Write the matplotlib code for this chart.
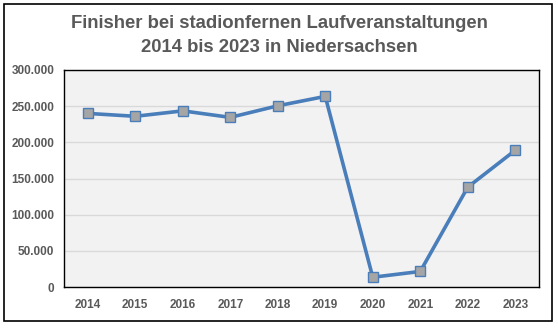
import matplotlib
matplotlib.use("Agg")
import matplotlib.pyplot as plt
from matplotlib.patches import Rectangle
from matplotlib.ticker import FuncFormatter

years = ["2014", "2015", "2016", "2017", "2018", "2019", "2020", "2021", "2022", "2023"]
finishers = [240000, 236000, 243500, 234500, 250500, 263500, 13500, 21500, 138000, 189000]
y_ticks = [0, 50000, 100000, 150000, 200000, 250000, 300000]

TEXT = "#595959"
plt.rcParams["font.family"] = ["Liberation Sans", "DejaVu Sans"]

fig = plt.figure(figsize=(5.58, 3.28), dpi=100)
W, H = 558, 328

# outer frame of the chart
fig.patches.append(Rectangle((4 / W, 1 - 321 / H), 548 / W, 317 / H,
                             transform=fig.transFigure, fill=False,
                             edgecolor="black", linewidth=1.2))

ax = fig.add_axes([64 / W, 1 - 287 / H, 475 / W, 217 / H])
ax.set_facecolor("#F2F2F2")

x = list(range(len(years)))
ax.plot(x, finishers, color="#4A7EBB", linewidth=2.6, marker="s",
        markersize=7.5, markerfacecolor="#A5A5A5", markeredgecolor="#4A7EBB",
        markeredgewidth=1.0, zorder=3)

ax.set_xlim(-0.5, len(years) - 0.5)
ax.set_ylim(0, 300000)
ax.set_xticks(x)
ax.set_xticklabels(years)
ax.set_yticks(y_ticks)
ax.yaxis.set_major_formatter(FuncFormatter(lambda v, _: f"{int(v):,}".replace(",", ".")))
ax.grid(axis="y", color="#D9D9D9", linewidth=1.0)
ax.set_axisbelow(True)
ax.tick_params(length=0, labelsize=8.5, labelcolor=TEXT, pad=7)
ax.tick_params(axis="x", pad=9)
for lab in ax.get_xticklabels() + ax.get_yticklabels():
    lab.set_fontweight("bold")
for sp in ax.spines.values():
    sp.set_color("black")
    sp.set_linewidth(1.0)

fig.text(0.5, 1 - 24 / H, "Finisher bei stadionfernen Laufveranstaltungen",
         ha="center", va="center", fontsize=13.3, fontweight="bold", color=TEXT)
fig.text(0.5, 1 - 48 / H, "2014 bis 2023 in Niedersachsen",
         ha="center", va="center", fontsize=13.3, fontweight="bold", color=TEXT)

fig.savefig("out.png", dpi=100)
